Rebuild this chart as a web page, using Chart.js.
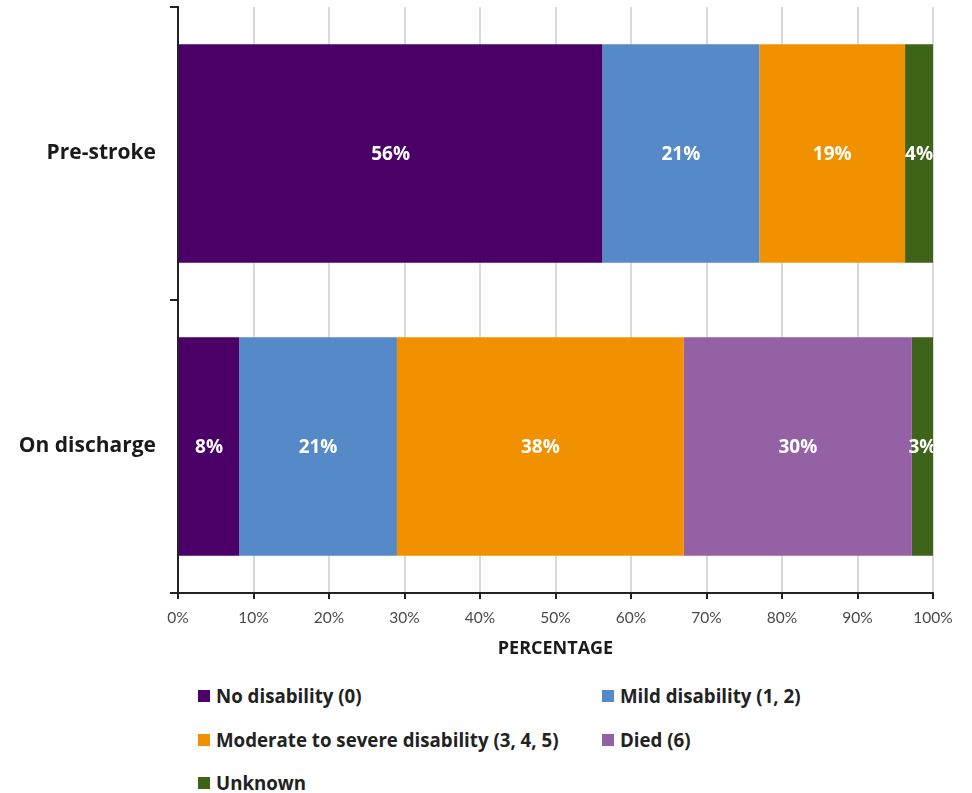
<!DOCTYPE html>
<html>
<head>
<meta charset="utf-8">
<script src="https://cdn.jsdelivr.net/npm/chart.js@4.4.1/dist/chart.umd.min.js"></script>
<style>
  html, body { margin: 0; padding: 0; background: #fff; }
  body { width: 972px; height: 793px; position: relative; font-family: "Open Sans", Lato, sans-serif; }
  #wrap { position: absolute; left: 0; top: 0; width: 972px; height: 668px; }
  #legend { position: absolute; left: 0; top: 684px; width: 972px; }
  .item { position: absolute; display: flex; align-items: center; height: 24px; line-height: 24px; font-weight: bold; font-size: 18.7px; color: #222; white-space: nowrap; }
  .box { width: 12px; height: 12px; margin-right: 6px; }
</style>
</head>
<body>
<div id="wrap"><canvas id="chart"></canvas></div>
<div id="legend"></div>
<script>
// Data
const categories = ['Pre-stroke', 'On discharge'];
const seriesNames = ['No disability (0)', 'Mild disability (1, 2)', 'Moderate to severe disability (3, 4, 5)', 'Died (6)', 'Unknown'];
const noDisability = [56.2, 8.1];
const mildDisability = [20.8, 20.9];
const moderateSevere = [19.3, 38.0];
const died = [0, 30.2];
const unknown = [3.7, 2.8];
const xTicks = [0, 10, 20, 30, 40, 50, 60, 70, 80, 90, 100];

const colors = ['#4b0068', '#5589c8', '#f29100', '#9461a5', '#3d6419'];
const values = [noDisability, mildDisability, moderateSevere, died, unknown];
const FONT = '"Open Sans", Lato, sans-serif';

// labels inside each segment, clipped to the chart area
const segLabels = {
    id: 'segLabels',
    afterDatasetsDraw(chart) {
        const ctx = chart.ctx, area = chart.chartArea;
        ctx.save();
        ctx.beginPath();
        ctx.rect(area.left, area.top, area.right - area.left, area.bottom - area.top);
        ctx.clip();
        ctx.fillStyle = '#fff';
        ctx.font = 'bold 19px ' + FONT;
        ctx.textAlign = 'center';
        ctx.textBaseline = 'middle';
        chart.data.datasets.forEach((ds, i) => {
            chart.getDatasetMeta(i).data.forEach((bar, j) => {
                const v = ds.data[j];
                if (!v) return;
                const p = bar.getProps(['x', 'y', 'base'], true);
                ctx.fillText(Math.round(v) + '%', (p.x + p.base) / 2, p.y + 1);
            });
        });
        ctx.restore();
    }
};

const chart = new Chart(document.getElementById('chart'), {
    type: 'bar',
    data: {
        labels: categories,
        datasets: seriesNames.map((name, i) => ({
            label: name,
            data: values[i],
            backgroundColor: colors[i],
            borderWidth: 0,
            barPercentage: 0.746,
            categoryPercentage: 1
        }))
    },
    options: {
        indexAxis: 'y',
        responsive: true,
        maintainAspectRatio: false,
        animation: false,
        layout: { padding: { top: 7, right: 39, left: 0, bottom: 0 } },
        plugins: { legend: { display: false }, tooltip: { enabled: false } },
        scales: {
            x: {
                stacked: true,
                min: 0,
                max: 100,
                afterBuildTicks: s => { s.ticks = xTicks.map(v => ({ value: v })); },
                afterFit: s => { s.height = 75; },
                grid: { color: '#d9d9d9', lineWidth: 2, tickColor: '#222', tickLength: 6 },
                border: { display: true, color: '#222', width: 2 },
                ticks: {
                    color: '#4a4a4a',
                    padding: 10,
                    font: { family: 'Lato, "Open Sans", sans-serif', size: 15.5 },
                    callback: v => v + '%'
                },
                title: {
                    display: true,
                    text: 'PERCENTAGE',
                    color: '#1a1a1a',
                    font: { family: FONT, size: 18, weight: 'bold' },
                    padding: { top: 0, bottom: 8 }
                }
            },
            y: {
                stacked: true,
                afterFit: s => { s.width = 178; s.paddingTop = 0; s.paddingBottom = 0; },
                grid: { offset: true, drawOnChartArea: false, tickColor: '#222', tickLength: 8, lineWidth: 2 },
                border: { display: true, color: '#222', width: 2 },
                ticks: {
                    color: '#1a1a1a',
                    padding: 14,
                    font: { family: FONT, size: 21, weight: 'bold' }
                }
            }
        }
    },
    plugins: [segLabels]
});

// legend in two columns
const legendPos = [[198, 0], [602, 0], [198, 44], [602, 44], [198, 87]];
const legendEl = document.getElementById('legend');
chart.data.datasets.forEach((ds, i) => {
    const item = document.createElement('div');
    item.className = 'item';
    item.style.left = legendPos[i][0] + 'px';
    item.style.top = legendPos[i][1] + 'px';
    item.innerHTML = '<span class="box" style="background:' + ds.backgroundColor + '"></span>' + ds.label;
    legendEl.appendChild(item);
});
</script>
</body>
</html>
